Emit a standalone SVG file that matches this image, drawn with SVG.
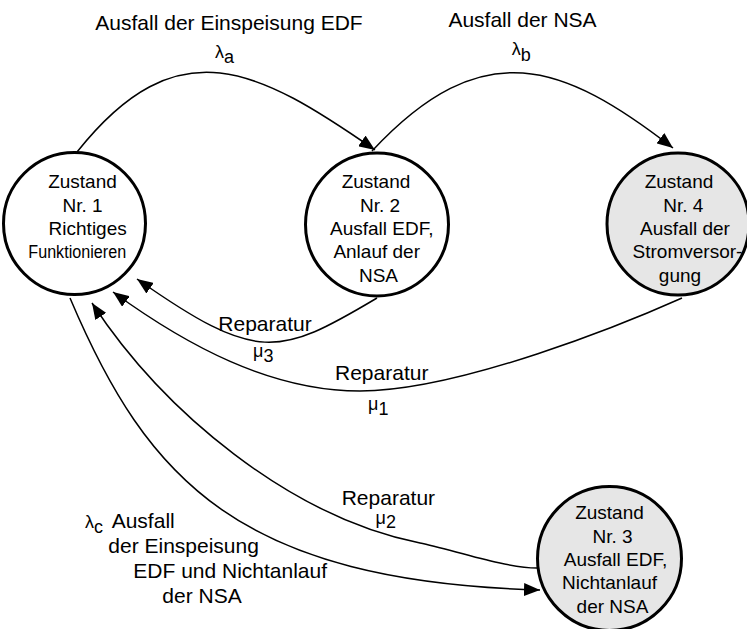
<svg xmlns="http://www.w3.org/2000/svg" width="747" height="629" viewBox="0 0 747 629">
<defs>
<style>
.node{stroke:#000;stroke-width:3}
.white{fill:#fff}
.grey{fill:#e6e6e6}
.nt{font-family:"Liberation Sans",Arial,sans-serif;font-size:19px;fill:#000;text-anchor:middle}
.lb{font-family:"Liberation Sans",Arial,sans-serif;font-size:21px;fill:#000}
.sym{font-family:"Liberation Sans",Arial,sans-serif;font-size:18px;fill:#000}
.edge{fill:none;stroke:#000;stroke-width:1.5}
</style>
<marker id="arr" markerUnits="userSpaceOnUse" markerWidth="17" markerHeight="13" refX="16" refY="6.5" orient="auto">
<path d="M0,0 L16,6.5 L0,13 z" fill="#000"/>
</marker>
</defs>
<rect width="747" height="629" fill="#fff"/>

<g id="n1">
<circle class="node white" cx="74.5" cy="223.5" r="71"/>
<text class="nt"><tspan x="82.5" y="188">Zustand</tspan><tspan x="82.5" y="211.7">Nr. 1</tspan><tspan x="87.7" y="235">Richtiges</tspan></text>
<text class="nt" transform="scale(0.85,1)" x="33.3" y="258.3" style="text-anchor:start">Funktionieren</text>
</g>
<g id="n2">
<circle class="node white" cx="377" cy="224.5" r="71.5"/>
<text class="nt"><tspan x="376" y="188">Zustand</tspan><tspan x="380" y="211.7">Nr. 2</tspan><tspan x="381.7" y="235">Ausfall EDF,</tspan><tspan x="376.7" y="258.3">Anlauf der</tspan><tspan x="378.5" y="281.7">NSA</tspan></text>
</g>
<g id="n4">
<circle class="node grey" cx="678" cy="224" r="71"/>
<text class="nt"><tspan x="679" y="188">Zustand</tspan><tspan x="683.3" y="211.7">Nr. 4</tspan><tspan x="685" y="235">Ausfall der</tspan><tspan x="687.5" y="258.3">Stromversor-</tspan><tspan x="680" y="281.7">gung</tspan></text>
</g>
<g id="n3">
<circle class="node grey" cx="609.5" cy="558.5" r="72"/>
<text class="nt"><tspan x="609.5" y="519.3">Zustand</tspan><tspan x="612.5" y="542.7">Nr. 3</tspan><tspan x="615.5" y="566">Ausfall EDF,</tspan><tspan x="609.5" y="589.3">Nichtanlauf</tspan><tspan x="612.5" y="612.7">der NSA</tspan></text>
</g>

<g id="edges">
<path class="edge" marker-end="url(#arr)" d="M77,152 C178,25 258,69 375,150"/>
<path class="edge" marker-end="url(#arr)" d="M372,151 C483,32 563,63 673,148"/>
<path class="edge" marker-end="url(#arr)" d="M377,298 C278,357 257,363 137,279"/>
<path class="edge" marker-end="url(#arr)" d="M682,298 C627,322.6 460,391 360,391 C270,391 186,345 113,292"/>
<path class="edge" marker-end="url(#arr)" d="M537,568 C505,568 450,549 420,543 C290,517 163.5,412 92,303"/>
<path class="edge" marker-end="url(#arr)" d="M70,298 C148,482 240,581 540,590"/>
</g>

<g id="labels">
<text class="lb" x="229" y="30" text-anchor="middle">Ausfall der Einspeisung EDF</text>
<text class="sym" x="215" y="58">λ<tspan dy="4.5">a</tspan></text>
<text class="lb" x="522.5" y="26.7" text-anchor="middle">Ausfall der NSA</text>
<text class="sym" x="511.7" y="55">λ<tspan dy="5.5">b</tspan></text>
<text class="lb" x="218.3" y="330.7">Reparatur</text>
<text class="sym" x="253" y="357">μ<tspan dy="4.7">3</tspan></text>
<text class="lb" x="335" y="380">Reparatur</text>
<text class="sym" x="368" y="410">μ<tspan dy="5">1</tspan></text>
<text class="lb" x="341.7" y="505">Reparatur</text>
<text class="sym" x="375.5" y="524">μ<tspan dy="4">2</tspan></text>
<text class="sym" x="85" y="528">λ<tspan dy="5">c</tspan></text>
<text class="lb" x="111.7" y="528.3">Ausfall</text>
<text class="lb" x="108.3" y="553.3">der Einspeisung</text>
<text class="lb" x="133.3" y="578.3">EDF und Nichtanlauf</text>
<text class="lb" x="162.3" y="603.3">der NSA</text>
</g>
</svg>
